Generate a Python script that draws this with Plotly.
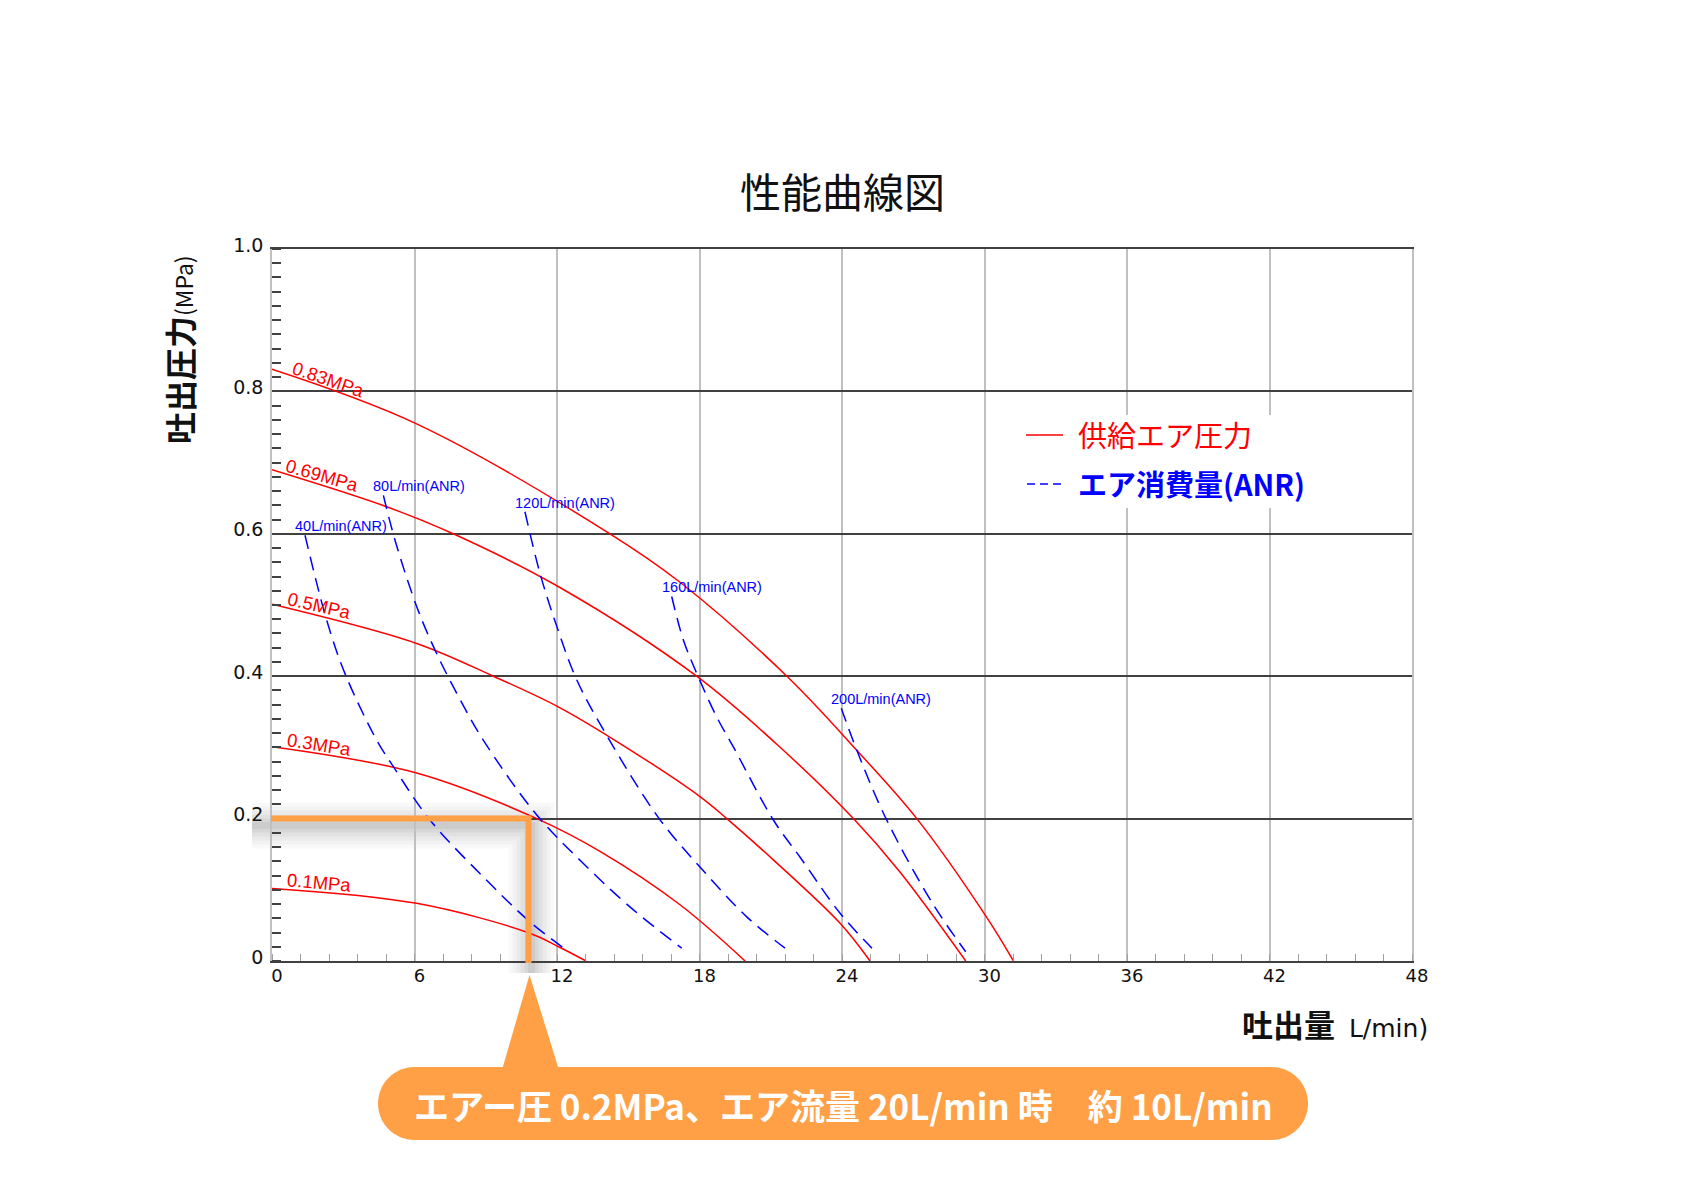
import plotly.graph_objects as go
import numpy as np

# ---------------- data ----------------
X_TICKS = [0, 6, 12, 18, 24, 30, 36, 42, 48]
X_TICK_TEXT = ["0", "6", "12", "18", "24", "30", "36", "42", "48"]
Y_TICKS = [0, 0.2, 0.4, 0.6, 0.8, 1.0]
Y_TICK_TEXT = ["0", "0.2", "0.4", "0.6", "0.8", "1.0"]

# supply air pressure curves (red)
P083_X = [0, 6.11, 14.23, 17.18, 21.68, 24.62, 27.15, 30.08, 31.22]
P083_Y = [0.831, 0.754, 0.6, 0.532, 0.4, 0.296, 0.2, 0.062, 0]
P069_X = [0, 4.83, 7.63, 12.05, 17.88, 21.53, 24.48, 26.44, 29.21]
P069_Y = [0.69, 0.638, 0.6, 0.526, 0.4, 0.296, 0.2, 0.125, 0]
P05_X = [0, 6.09, 9.32, 12.05, 14.44, 18.02, 19.15, 21.11, 23.92, 25.18]
P05_Y = [0.501, 0.446, 0.4, 0.357, 0.31, 0.231, 0.2, 0.142, 0.053, 0]
P03_X = [0, 6.09, 11.15, 13.81, 17.18, 19.92]
P03_Y = [0.301, 0.264, 0.2, 0.154, 0.079, 0]
P01_X = [0, 6.09, 10.86, 12.07, 13.22]
P01_Y = [0.102, 0.081, 0.039, 0.02, 0]
PRESSURE_LABELS = ["0.83MPa", "0.69MPa", "0.5MPa", "0.3MPa", "0.1MPa"]

# air consumption curves (blue dashed)
A40_X = [1.39, 2.3, 3.07, 4.41, 5.11, 6.65, 8.9, 10.86, 12.41]
A40_Y = [0.598, 0.479, 0.404, 0.31, 0.273, 0.198, 0.118, 0.055, 0.015]
A80_X = [4.69, 5.18, 6.09, 6.86, 7.78, 8.9, 11.15, 13.11, 15.07, 17.25]
A80_Y = [0.654, 0.591, 0.498, 0.437, 0.376, 0.31, 0.205, 0.137, 0.076, 0.018]
A120_X = [10.65, 11.28, 11.99, 12.83, 14.09, 16.3, 18.02, 19.99, 21.6]
A120_Y = [0.631, 0.545, 0.47, 0.395, 0.317, 0.2, 0.132, 0.062, 0.018]
A160_X = [16.83, 17.32, 17.95, 18.72, 19.42, 21.11, 22.23, 23.92, 25.26]
A160_Y = [0.512, 0.451, 0.399, 0.343, 0.301, 0.198, 0.146, 0.067, 0.018]
A200_X = [23.97, 24.59, 25.81, 27.81, 29.21]
A200_Y = [0.355, 0.299, 0.203, 0.081, 0.013]
CONSUMPTION_LABELS = ["40L/min(ANR)", "80L/min(ANR)", "120L/min(ANR)", "160L/min(ANR)", "200L/min(ANR)"]

# highlighted operating point
HL_PRESSURE = 0.2
HL_FLOW = 10.8

TITLE = "性能曲線図"
Y_TITLE = "吐出圧力"
Y_UNIT = "(MPa)"
X_TITLE = "吐出量"
X_UNIT = "L/min)"
LEGEND_RED = "供給エア圧力"
LEGEND_BLUE = "エア消費量(ANR)"
CALLOUT = "エアー圧 0.2MPa、エア流量 20L/min 時　約 10L/min"

# ---------------- layout geometry / styles ----------------
W, H = 1684, 1190
ML, MR, MT, MB = 272, 272, 249, 229
PW, PH = W - ML - MR, H - MT - MB
X_MAX, Y_MAX = 48, 1.0
RED = "#ff0000"
BLUE = "#0000ff"
ORANGE = "#ffa047"
CJK = "Noto Sans CJK JP"
LAT = "Liberation Sans, Arial, sans-serif"


def px(xp, yp):
    """page pixel -> paper coordinates"""
    return (xp - ML) / PW, (H - MB - yp) / PH


fig = go.Figure()

pressure_curves = [(P083_X, P083_Y), (P069_X, P069_Y), (P05_X, P05_Y), (P03_X, P03_Y), (P01_X, P01_Y)]
consumption_curves = [(A40_X, A40_Y), (A80_X, A80_Y), (A120_X, A120_Y), (A160_X, A160_Y), (A200_X, A200_Y)]

for (xs, ys), name in zip(pressure_curves, PRESSURE_LABELS):
    fig.add_trace(go.Scatter(x=xs, y=ys, mode="lines", name=name, showlegend=False,
                             line=dict(color=RED, width=1.5, shape="spline", smoothing=1.0),
                             hoverinfo="skip"))
for (xs, ys), name in zip(consumption_curves, CONSUMPTION_LABELS):
    fig.add_trace(go.Scatter(x=xs, y=ys, mode="lines", name=name, showlegend=False,
                             line=dict(color=BLUE, width=1.5, dash="14px,8px", shape="spline", smoothing=1.0),
                             hoverinfo="skip"))

annotations = []
# pressure labels (rotated along curves)
label_x = [2.385, 2.13, 1.97, 1.97, 1.97]
label_angle = [19, 16, 13, 9, 5]
for (xs, ys), name, lx, ang in zip(pressure_curves, PRESSURE_LABELS, label_x, label_angle):
    annotations.append(dict(x=lx, y=float(np.interp(lx, xs, ys)), xref="x", yref="y", text=name,
                            showarrow=False, textangle=ang, yshift=11,
                            font=dict(family=LAT, size=18.5, color=RED)))
# consumption labels at the top of each dashed curve
for (xs, ys), name in zip(consumption_curves, CONSUMPTION_LABELS):
    annotations.append(dict(x=xs[0], y=ys[0], xref="x", yref="y", text=name, showarrow=False,
                            xanchor="left", yanchor="middle", xshift=-12, yshift=9,
                            font=dict(family=LAT, size=14.5, color=BLUE)))

# title
tx, ty = px(845.5, 190)
annotations.append(dict(x=0.5, y=ty, xref="paper", yref="paper", text=TITLE, showarrow=False,
                        xanchor="center", yanchor="middle", font=dict(family=CJK, size=41, color="#111")))
# y title
yx, yy = px(179, 350)
annotations.append(dict(x=yx, y=yy, xref="paper", yref="paper", textangle=-90, showarrow=False,
                        xanchor="center", yanchor="middle",
                        text=f"<b>{Y_TITLE}</b><span style='font-size:23px'>{Y_UNIT}</span>",
                        font=dict(family=CJK, size=32, color="#111")))
# x title
xx, xy = px(1430, 1023)
annotations.append(dict(x=xx, y=xy, xref="paper", yref="paper", showarrow=False,
                        xanchor="right", yanchor="middle",
                        text=f"<b>{X_TITLE}</b>  <span style='font-family:DejaVu Sans;font-size:25px'>{X_UNIT}</span>",
                        font=dict(family=CJK, size=31, color="#111")))
# legend texts
lx1, ly1 = px(1076, 434)
annotations.append(dict(x=lx1, y=ly1, xref="paper", yref="paper", text=LEGEND_RED, showarrow=False,
                        xanchor="left", yanchor="middle", font=dict(family=CJK, size=29, color=RED)))
lx2, ly2 = px(1076, 483)
annotations.append(dict(x=lx2, y=ly2, xref="paper", yref="paper", text=f"<b>{LEGEND_BLUE}</b>", showarrow=False,
                        xanchor="left", yanchor="middle", font=dict(family=CJK, size=29, color=BLUE)))
# callout text
cx, cy = px(843.5, 1104)
annotations.append(dict(x=cx, y=cy, xref="paper", yref="paper", text=f"<b>{CALLOUT}</b>", showarrow=False,
                        xanchor="center", yanchor="middle", font=dict(family=CJK, size=35, color="white")))

shapes = []
# legend box + samples
bx0, by0 = px(995, 415)
bx1, by1 = px(1318, 508)
shapes.append(dict(type="rect", xref="paper", yref="paper", x0=bx0, y0=by0, x1=bx1, y1=by1,
                   fillcolor="white", line=dict(width=0), layer="above"))
a, b = px(1026, 435); c, d = px(1063, 435)
shapes.append(dict(type="line", xref="paper", yref="paper", x0=a, y0=b, x1=c, y1=d,
                   line=dict(color=RED, width=1.5), layer="above"))
a, b = px(1027, 484); c, d = px(1066, 484)
shapes.append(dict(type="line", xref="paper", yref="paper", x0=a, y0=b, x1=c, y1=d,
                   line=dict(color=BLUE, width=1.5, dash="8px,5px"), layer="above"))

# highlight L (operating point) with soft shadow
hx = HL_FLOW / X_MAX
hy = HL_PRESSURE / Y_MAX
def lpath(dx_px, dy_px, x_start_px, y_end_px):
    x0 = x_start_px / PW
    xc = hx + dx_px / PW
    yc = hy - dy_px / PH
    y1 = -y_end_px / PH
    return f"M {x0},{yc} L {xc},{yc} L {xc},{y1}"
for wdt, alpha in [(46, 0.022), (38, 0.027), (30, 0.032), (22, 0.037), (14, 0.042), (7, 0.05)]:
    shapes.append(dict(type="path", xref="paper", yref="paper", path=lpath(3, 7, -20, 12),
                       line=dict(color=f"rgba(0,0,0,{alpha})", width=wdt), layer="below"))
shapes.append(dict(type="path", xref="paper", yref="paper", path=lpath(0, 0, -1, 2),
                   line=dict(color=ORANGE, width=6), layer="above"))

# callout pill + pointer
x0p, x1p, topp, botp = 378, 1308, 1067, 1140
r = (botp - topp) / 2
k = 0.5523 * r
cyp = (topp + botp) / 2
pts = [
    ("M", [(x1p - r, topp)]),
    ("C", [(x1p - r + k, topp), (x1p, cyp - k), (x1p, cyp)]),
    ("C", [(x1p, cyp + k), (x1p - r + k, botp), (x1p - r, botp)]),
    ("L", [(x0p + r, botp)]),
    ("C", [(x0p + r - k, botp), (x0p, cyp + k), (x0p, cyp)]),
    ("C", [(x0p, cyp - k), (x0p + r - k, topp), (x0p + r, topp)]),
]
path = ""
for cmd, plist in pts:
    path += cmd + " " + " ".join(f"{px(p[0], p[1])[0]:.5f},{px(p[0], p[1])[1]:.5f}" for p in plist) + " "
path += "Z"
shapes.append(dict(type="path", xref="paper", yref="paper", path=path, fillcolor=ORANGE,
                   line=dict(width=0), layer="above"))
apex_x = ML + hx * PW + 1
tri = [(502, 1070), (apex_x, 975), (559, 1070)]
tpath = "M " + " L ".join(f"{px(p[0], p[1])[0]:.5f},{px(p[0], p[1])[1]:.5f}" for p in tri) + " Z"
shapes.append(dict(type="path", xref="paper", yref="paper", path=tpath, fillcolor=ORANGE,
                   line=dict(width=0), layer="above"))

fig.update_layout(
    width=W, height=H,
    margin=dict(l=ML, r=MR, t=MT, b=MB, pad=0),
    paper_bgcolor="white", plot_bgcolor="rgba(0,0,0,0)",
    showlegend=False,
    annotations=annotations, shapes=shapes,
    xaxis=dict(range=[0, X_MAX], tickmode="array", tickvals=X_TICKS, ticktext=X_TICK_TEXT,
               showgrid=True, gridcolor="#c0c0c0", gridwidth=1.5, zeroline=False,
               showline=True, linecolor="#404040", linewidth=2, mirror=True, ticks="",
               ticklabelstandoff=-3, ticklabelshift=5,
               tickfont=dict(family="DejaVu Sans", size=18, color="#111"),
               minor=dict(ticks="inside", tickmode="linear", tick0=0, dtick=1.2, ticklen=7,
                          tickwidth=1, tickcolor="#a0a0a0", showgrid=False)),
    yaxis=dict(range=[0, Y_MAX], tickmode="array", tickvals=Y_TICKS, ticktext=Y_TICK_TEXT,
               showgrid=True, gridcolor="#404040", gridwidth=2, zeroline=False,
               showline=True, linecolor="#c0c0c0", linewidth=1.5, mirror=True, ticks="",
               ticklabelstandoff=3, ticklabelshift=-4,
               tickfont=dict(family="DejaVu Sans", size=19, color="#111"),
               minor=dict(ticks="inside", tickmode="linear", tick0=0, dtick=0.02, ticklen=9,
                          tickwidth=2, tickcolor="#404040", showgrid=False)),
)

fig.write_html("out.html", config={"displayModeBar": False},
               post_script="document.body.style.margin='0';document.body.style.overflow='hidden';")
